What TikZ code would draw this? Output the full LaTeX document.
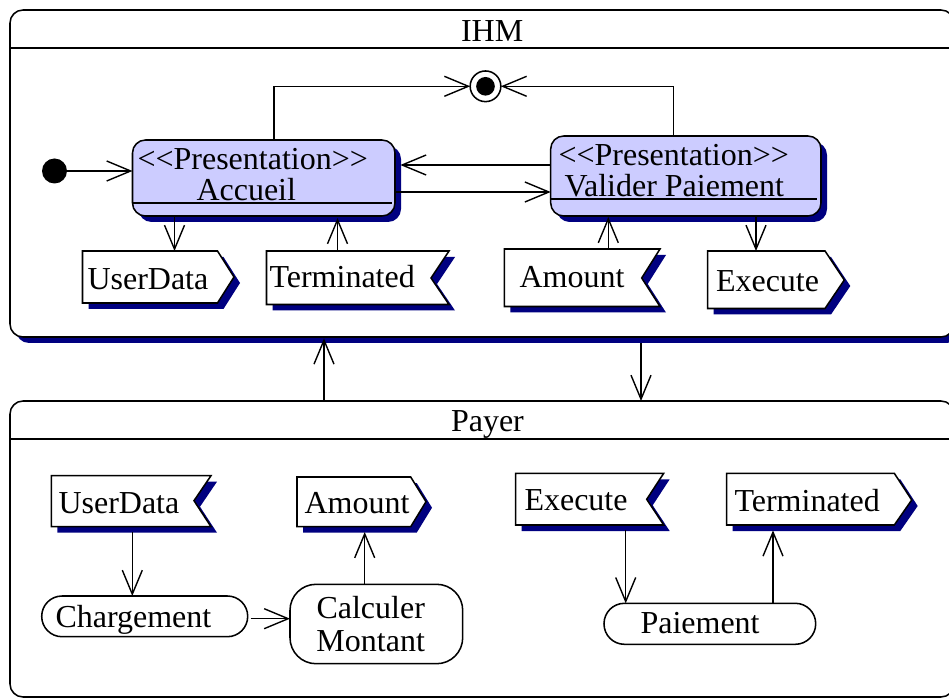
\documentclass[tikz,border=0pt]{standalone}
\usepackage{fontspec}
\setmainfont{Liberation Serif}
\usetikzlibrary{arrows.meta}
\definecolor{navyshade}{RGB}{0,0,128}
\definecolor{lavender}{RGB}{204,204,255}
\tikzset{
  lbl/.style={anchor=base west,inner sep=0pt,outer sep=0pt,font=\fontsize{24}{28}\selectfont},
  ctr/.style={lbl,anchor=base},
  outline/.style={draw=black,line width=1.15pt,line join=miter},
  arr/.style={draw=black,line width=1.05pt,-{Straight Barb[length=18pt,width=15pt,line width=1.05pt]}},
  plain/.style={draw=black,line width=1.05pt},
}
% box: name, left, top, right, bottom, radius, fill, shadow offset
\newcommand\stbox[8]{%
  \ifnum#8>0
    \fill[navyshade,rounded corners=#6*0.75pt] (#2+#8,#3+#8) rectangle (#4+#8,#5+#8);
  \fi
  \node[anchor=north west,outline,fill=#7,rounded corners=#6*0.75pt,inner sep=0pt,outer sep=0pt,
        minimum width={(#4-#2)*0.75pt},minimum height={(#5-#3)*0.75pt}] (#1) at (#2,#3) {};
}
% signal: name, left, top, bottom, notch x, tip x, middle y
\newcommand\sendsig[7]{%
  \fill[navyshade,shift={(6,6)}] (#2,#3) -- (#5,#3) -- (#6,#7) -- (#5,#4) -- (#2,#4) -- cycle;
  \filldraw[outline,fill=white] (#2,#3) -- (#5,#3) -- (#6,#7) -- (#5,#4) -- (#2,#4) -- cycle;
  \node[anchor=north west,inner sep=0pt,outer sep=0pt,
        minimum width={(#6-#2)*0.75pt},minimum height={(#4-#3)*0.75pt}] (#1) at (#2,#3) {};
}
\newcommand\recvsig[7]{%
  \fill[navyshade,shift={(6,6)}] (#2,#3) -- (#6,#3) -- (#5,#7) -- (#6,#4) -- (#2,#4) -- cycle;
  \filldraw[outline,fill=white] (#2,#3) -- (#6,#3) -- (#5,#7) -- (#6,#4) -- (#2,#4) -- cycle;
  \node[anchor=north west,inner sep=0pt,outer sep=0pt,
        minimum width={(#6-#2)*0.75pt},minimum height={(#4-#3)*0.75pt}] (#1) at (#2,#3) {};
}
\begin{document}
\begin{tikzpicture}[x=0.75pt,y=-0.75pt]
\useasboundingbox (0,0) rectangle (949,698);
\clip (0,0) rectangle (949,698);
\fill[white] (0,0) rectangle (949,698);

% frames
\stbox{ihm}{10}{10}{954}{337}{13}{white}{6}
\stbox{pay}{10}{401}{954}{697}{13}{white}{0}
\coordinate (h1) at (0,48);
\coordinate (h2) at (0,439);
\draw[plain] (ihm.west |- h1) -- (ihm.east |- h1);
\draw[plain] (pay.west |- h2) -- (pay.east |- h2);
\node[lbl] (ihmt) at (461,41.3) {IHM};
\node[lbl] (payt) at (451,431) {Payer};

% initial and final
\node[circle,fill=black,inner sep=0pt,outer sep=0pt,minimum size=18.75pt] (ini) at (54.5,171) {};
\node[circle,outline,fill=white,inner sep=0pt,outer sep=0pt,minimum size=23pt] (fin) at (485.5,86.3) {};
\node[circle,fill=black,inner sep=0pt,outer sep=0pt,minimum size=14pt] (fini) at (485.5,86.3) {};

% presentation states
\stbox{acc}{132.5}{140}{395}{216}{13}{lavender}{6}
\stbox{val}{550.7}{136}{821}{216}{13}{lavender}{6}
\coordinate (s1) at (392,203);
\coordinate (s2) at (817,199);
\draw[plain] (acc.west |- s1) -- (s1);
\draw[plain] (val.west |- s2) -- (s2);
\node[lbl] (acct1) at (137.5,170) {<{}<Presentation>{}>};
\node[lbl] (acct2) at (196.5,200.5) {Accueil};
\node[lbl] (valt1) at (558.5,165.5) {<{}<Presentation>{}>};
\node[lbl] (valt2) at (564.5,197) {Valider Paiement};

% signals in IHM
\sendsig{su}{82.5}{251}{303}{217.5}{234}{277}
\node[lbl] (sut) at (87.5,290) {UserData};
\recvsig{rt}{266.5}{251}{304.5}{431}{449}{278}
\node[lbl] (rtt) at (269.5,287.5) {Terminated};
\recvsig{ra}{504.3}{249}{306.5}{641.7}{660}{278}
\node[lbl] (rat) at (519.5,287.5) {Amount};
\sendsig{se}{707.7}{251}{308.5}{825}{844.3}{280}
\node[lbl] (set) at (716,291.7) {Execute};

% signals and activities in Payer
\recvsig{ru}{51.3}{475.7}{526.7}{194}{211}{500.7}
\node[lbl] (rut) at (58.5,513.3) {UserData};
\sendsig{sa}{297}{477}{526.7}{410.7}{426}{501.7}
\node[lbl] (sat) at (304.5,513.3) {Amount};
\recvsig{re}{515.7}{473.3}{525}{646.7}{663.7}{499.3}
\node[lbl] (ret) at (524.5,510) {Execute};
\sendsig{st}{726.7}{473.3}{525}{894.3}{911.7}{500}
\node[lbl] (stt) at (734.5,511.7) {Terminated};
\stbox{cha}{41.7}{596}{247.7}{636.7}{20.3}{white}{0}
\node[lbl] (chat) at (55.5,627.3) {Chargement};
\stbox{cal}{290}{584.3}{462.7}{663.7}{26}{white}{0}
\node[ctr] (calt1) at (370.7,618.3) {Calculer};
\node[ctr] (calt2) at (370.7,651.7) {Montant};
\stbox{pai}{604}{603.3}{815.7}{644.3}{20.4}{white}{0}
\node[lbl] (pait) at (640.5,633.3) {Paiement};

% connector x positions
\coordinate (c1) at (174.5,0);
\coordinate (c2) at (337.5,0);
\coordinate (c3) at (608.3,0);
\coordinate (c4) at (756,0);
\coordinate (c5) at (274,0);
\coordinate (c6) at (673.3,0);
\coordinate (c7) at (324,0);
\coordinate (c8) at (641,0);
\coordinate (c9) at (132.3,0);
\coordinate (c10) at (364.7,0);
\coordinate (c11) at (625.7,0);
\coordinate (c12) at (773,0);
\coordinate (r1) at (0,165);
\coordinate (r2) at (0,192);
\coordinate (r3) at (0,618.7);

% connectors
\draw[arr] (ini) -- (acc.west |- ini);
\draw[arr] (acc.north -| c5) |- (fin.west);
\draw[arr] (val.north -| c6) |- (fin.east);
\draw[arr] (val.west |- r1) -- ([xshift=4pt]acc.east |- r1);
\draw[arr] (acc.east |- r2) -- (val.west |- r2);
\draw[arr] (acc.south -| c1) -- (su.north -| c1);
\draw[arr] (rt.north -| c2) -- ([yshift=-1.5pt]acc.south -| c2);
\draw[arr] (ra.north -| c3) -- ([yshift=-0.75pt]val.south -| c3);
\draw[arr] (val.south -| c4) -- (se.north -| c4);
\draw[arr] (pay.north -| c7) -- ([yshift=-1pt]ihm.south -| c7);
\draw[arr] ([yshift=-4.5pt]ihm.south -| c8) -- (pay.north -| c8);
\draw[arr] ([yshift=-4pt]ru.south -| c9) -- (cha.north -| c9);
\draw[arr] (cal.north -| c10) -- ([yshift=-4pt]sa.south -| c10);
\draw[arr] ([xshift=2.25pt]cha.east |- r3) -- (cal.west |- r3);
\draw[arr] ([yshift=-4pt]re.south -| c11) -- (pai.north -| c11);
\draw[arr] (pai.north -| c12) -- ([yshift=-4pt]st.south -| c12);
\end{tikzpicture}
\end{document}
